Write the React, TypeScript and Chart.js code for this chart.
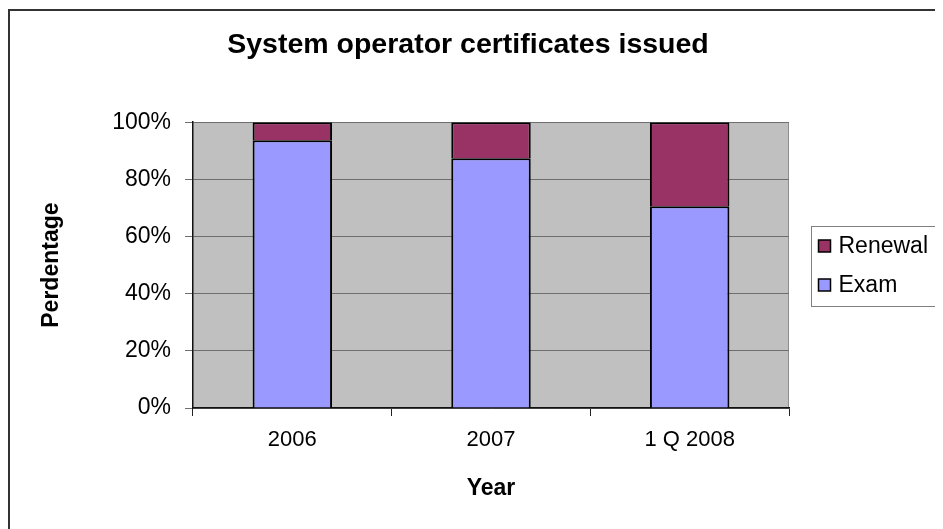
import React, { useEffect, useRef } from "react";
import { Chart, registerables } from "chart.js";

Chart.register(...registerables);

const categories = ["2006", "2007", "1 Q 2008"];
const examValues = [93.7, 87.4, 70.6];
const renewalValues = [6.3, 12.6, 29.4];
const yTickValues = [0, 20, 40, 60, 80, 100];
const chartTitle = "System operator certificates issued";
const yAxisTitle = "Perdentage";
const xAxisTitle = "Year";

const FONT = "'Liberation Sans', Arial, sans-serif";

const framePlugin = {
  id: "frame",
  afterLayout(chart: any) {
    const tb = chart.titleBlock;
    if (tb) {
      tb.left = 0;
      tb.right = 920;
      tb.width = 920;
    }
  },
  beforeDraw(chart: any) {
    const { ctx, chartArea } = chart;
    ctx.save();
    ctx.fillStyle = "#C0C0C0";
    ctx.fillRect(chartArea.left, chartArea.top, chartArea.right - chartArea.left, chartArea.bottom - chartArea.top);
    ctx.strokeStyle = "#8c8c8c";
    ctx.lineWidth = 1;
    ctx.beginPath();
    ctx.moveTo(Math.round(chartArea.right) - 0.5, chartArea.top);
    ctx.lineTo(Math.round(chartArea.right) - 0.5, chartArea.bottom);
    ctx.stroke();
    ctx.strokeStyle = "#333333";
    ctx.lineWidth = 2;
    ctx.strokeRect(1, 2, chart.width + 20, chart.height + 20);
    ctx.restore();
  },
};

const legendPlugin = {
  id: "boxLegend",
  afterDraw(chart: any) {
    const { ctx } = chart;
    const datasets = chart.data.datasets.slice().reverse();
    const boxLeft = chart.chartArea.right + 22;
    const boxTop = 218.5;
    const boxBottom = 298.5;
    ctx.save();
    ctx.strokeStyle = "#808080";
    ctx.lineWidth = 1;
    ctx.strokeRect(Math.round(boxLeft) + 0.5, boxTop, chart.width, boxBottom - boxTop);
    ctx.font = `23px ${FONT}`;
    ctx.textBaseline = "middle";
    const rowH = 39;
    const firstY = 238;
    datasets.forEach((ds: any, i: number) => {
      const cy = firstY + i * rowH;
      const sx = Math.round(boxLeft) + 7.5;
      ctx.fillStyle = ds.backgroundColor;
      ctx.fillRect(sx, cy - 6, 12, 12);
      ctx.strokeStyle = "#000";
      ctx.lineWidth = 1.5;
      ctx.strokeRect(sx, cy - 6, 12, 12);
      ctx.fillStyle = "#000";
      ctx.fillText(ds.label, sx + 20, cy + 1);
    });
    ctx.restore();
  },
};

export default function App() {
  const canvasRef = useRef<HTMLCanvasElement | null>(null);

  useEffect(() => {
    if (!canvasRef.current) return;
    const chart = new Chart(canvasRef.current, {
      type: "bar",
      data: {
        labels: categories,
        datasets: [
          {
            label: "Exam",
            data: examValues,
            backgroundColor: "#9999FF",
            borderColor: "#000000",
            borderWidth: 2,
            barPercentage: 0.4,
            categoryPercentage: 1,
          },
          {
            label: "Renewal",
            data: renewalValues,
            backgroundColor: "#993366",
            borderColor: "#000000",
            borderWidth: 2,
            barPercentage: 0.4,
            categoryPercentage: 1,
          },
        ],
      },
      options: {
        responsive: false,
        animation: false,
        layout: { padding: { left: 0, top: 0, right: 154, bottom: 0 } },
        plugins: {
          legend: { display: false },
          tooltip: { enabled: false },
          title: {
            display: true,
            text: chartTitle,
            color: "#000",
            font: { family: FONT, size: 28.5, weight: "bold" },
            padding: { top: 20, bottom: 60 },
          },
        },
        scales: {
          x: {
            stacked: true,
            afterFit(scale: any) {
              scale.height = 121;
            },
            grid: {
              display: true,
              offset: true,
              drawOnChartArea: false,
              drawTicks: true,
              tickLength: 8,
              tickColor: "#222",
            },
            border: { display: true, color: "#111", width: 1.5 },
            ticks: {
              color: "#000",
              font: { family: FONT, size: 22 },
              padding: 11,
              maxRotation: 0,
            },
            title: {
              display: true,
              text: xAxisTitle,
              color: "#000",
              font: { family: FONT, size: 23, weight: "bold" },
              padding: { top: 0, bottom: 27 },
            },
          },
          y: {
            stacked: true,
            min: 0,
            max: 100,
            afterFit(scale: any) {
              scale.width = 185;
            },
            afterBuildTicks(scale: any) {
              scale.ticks = yTickValues.map((v) => ({ value: v }));
            },
            grid: {
              color: "#6e6e6e",
              lineWidth: 1,
              drawTicks: true,
              tickLength: 8,
              tickColor: "#6e6e6e",
            },
            border: { display: true, color: "#111", width: 1.5 },
            ticks: {
              color: "#000",
              font: { family: FONT, size: 23 },
              padding: 14,
              callback: (v: any) => `${v}%`,
            },
            title: {
              display: true,
              text: yAxisTitle,
              color: "#000",
              font: { family: FONT, size: 23, weight: "bold" },
              padding: { top: 30, bottom: 0 },
            },
          },
        },
      },
      plugins: [framePlugin, legendPlugin],
    });
    return () => chart.destroy();
  }, []);

  return (
    <div style={{ width: 935, height: 521 }}>
      <canvas ref={canvasRef} width={935} height={521} style={{ display: "block", width: 935, height: 521 }} />
    </div>
  );
}
